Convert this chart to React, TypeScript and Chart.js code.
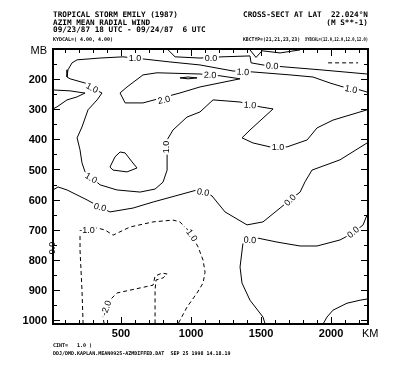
import React, { useEffect, useRef } from "react";
import { Chart, registerables } from "chart.js";
Chart.register(...registerables);

type P = [number, number]; // [distance km, pressure mb]

// ---- axes ----
const xRange = [14, 2264];
const yRange = [100, 1013];
const xMajorKm = [500, 1000, 1500, 2000];
const xMinorKm = [100, 200, 300, 400, 500, 600, 700, 800, 900, 1000, 1100, 1200, 1300, 1400, 1500, 1600, 1700, 1800, 1900, 2000, 2100, 2200];
const yMajorMb = [200, 300, 400, 500, 600, 700, 800, 900, 1000];
const yMinorMb = [150, 250, 350, 450, 550, 650, 750, 850, 950];

// ---- contour lines (level, points) ----
const c1a: P[] = [[2257,243],[2207,236],[2086,226],[1993,213],[1871,193],[1707,186],[1436,176],[1300,173],[1064,153],[850,143],[657,133],[514,126],[350,130],[186,136],[150,146],[121,169],[114,193],[136,199],[243,213],[350,243],[364,246],[329,269],[264,302],[221,359],[186,395],[207,435],[221,478],[243,508],[350,551],[471,568],[636,575],[743,565],[800,542],[829,502],[829,435],[829,402],[871,369],[971,326],[1064,309],[1157,269],[1350,276],[1493,292],[1586,299],[1421,369],[1364,395],[1443,412],[1564,425],[1686,425],[1829,402],[1900,362],[2014,336],[2257,302]];
const c1b: P[] = [[14,236],[136,239],[236,246],[243,246],[186,259],[114,269],[43,292],[14,299]];
const c1c: P[] = [[1943,1013],[1971,990],[2014,967],[2114,944],[2207,934],[2257,930]];
const c2a: P[] = [[1350,199],[1207,189],[1064,183],[757,179],[657,186],[543,226],[493,246],[529,279],[657,279],[921,246],[1064,226],[1350,199]];
const c2b: P[] = [[421,492],[457,458],[493,442],[529,445],[579,475],[614,495],[543,508],[443,502],[421,492]];
const c3a: P[] = [[921,196],[979,193],[1043,196],[979,199],[921,196]];
const c0a: P[] = [[836,103],[886,126],[1064,130],[1221,126],[1421,123],[1429,146],[1514,153],[1657,159],[1921,169],[2257,183]];
const c0b: P[] = [[1421,103],[1464,128],[1507,106],[1636,113],[1779,103]];
const c0c: P[] = [[14,568],[50,558],[114,568],[257,601],[350,625],[421,641],[586,628],[729,608],[886,588],[1043,568],[1100,575],[1150,588],[1243,641],[1400,684],[1514,674],[1636,628],[1707,601],[1779,575],[1814,541],[1864,502],[2064,468],[2257,412]];
const c0d: P[] = [[1529,1013],[1514,990],[1421,934],[1364,877],[1350,824],[1371,744],[1479,728],[1614,741],[1779,754],[1900,754],[2064,734],[2157,711],[2229,684],[2257,651]];
const cm1a: P[] = [[229,1013],[221,900],[207,767],[207,711],[243,701],[329,694],[386,701],[443,718],[564,691],[729,674],[871,668],[921,674],[1000,714],[1050,757],[1086,801],[1100,841],[1086,877],[1043,910],[971,957],[907,1013]];
const cm1b: P[] = [[1979,146],[2193,146]];
const cm2a: P[] = [[379,1013],[371,987],[407,940],[471,910],[600,897],[729,884],[743,854],[793,844],[829,847],[800,860],[750,867],[743,900],[743,1013]];

const contours: { level: number; pts: P[] }[] = [
  { level: 1, pts: c1a }, { level: 1, pts: c1b }, { level: 1, pts: c1c },
  { level: 2, pts: c2a }, { level: 2, pts: c2b }, { level: 3, pts: c3a },
  { level: 0, pts: c0a }, { level: 0, pts: c0b }, { level: 0, pts: c0c }, { level: 0, pts: c0d },
  { level: -1, pts: cm1a }, { level: -1, pts: cm1b }, { level: -2, pts: cm2a },
];

// contour labels: text, km, mb, angle(deg)
const labelText = ["1.0","1.0","1.0","1.0","1.0","1.0","1.0","1.0","2.0","2.0","0.0","0.0","0.0","0.0","0.0","0.0","0.0","-1.0","-1.0","-2.0","0.0"];
const labelKm = [600,1371,2143,293,286,821,1421,1621,807,1136,1143,1579,350,1086,1707,1421,2157,257,1000,393,7];
const labelMb = [130,176,233,229,528,425,286,425,269,186,130,156,625,575,601,734,708,701,714,960,761];
const labelAngle = [0,3,12,28,30,-90,5,0,-12,2,0,3,15,10,-45,3,-40,0,55,-70,-90];

// ---- texts ----
const titleLeft = ["TROPICAL STORM EMILY (1987)", "AZIM MEAN RADIAL WIND", "09/23/87 18 UTC - 09/24/87  6 UTC"];
const titleRight = ["CROSS-SECT AT LAT  22.024\u00B0N", "(M S**-1)"];
const smallLeft = "KYDCAL=( 4.00, 4.00)";
const smallRight1 = "KBCTYP=(21,21,23,23)";
const smallRight2 = "XYBCAL=(12.0,12.0,12.0,12.0)";
const footer1 = "CINT=   1.0 )";
const footer2 = "DDJ/DMD.KAPLAN.MEAN0925-AZMDIFFED.DAT  SEP 25 1998 14.18.19";

export default function App() {
  const ref = useRef<HTMLCanvasElement>(null);
  useEffect(() => {
    document.body.style.margin = "0";
    const canvas = ref.current!;
    const datasets = contours.map((c) => ({
      data: c.pts.map(([x, y]) => ({ x, y })),
      showLine: true,
      borderColor: "#000",
      borderWidth: 1,
      borderDash: c.level < 0 ? [4, 3] : [],
      pointRadius: 0,
      fill: false,
      tension: 0,
    }));
    const deco = {
      id: "deco",
      afterDraw(chart: any) {
        const { ctx, chartArea, scales } = chart;
        const { left, top, right, bottom } = chartArea;
        const x = scales.x, y = scales.y;
        ctx.save();
        // contour labels
        ctx.font = "9px 'Liberation Sans'";
        ctx.textAlign = "center";
        ctx.textBaseline = "middle";
        labelText.forEach((t, i) => {
          const px = x.getPixelForValue(labelKm[i]);
          const py = y.getPixelForValue(labelMb[i]);
          ctx.save();
          ctx.translate(px, py);
          ctx.rotate((labelAngle[i] * Math.PI) / 180);
          const w = ctx.measureText(t).width;
          ctx.fillStyle = "#fff";
          ctx.fillRect(-w / 2 - 1.5, -4, w + 3, 8);
          ctx.fillStyle = "#000";
          ctx.fillText(t, 0, 0.5);
          ctx.restore();
        });
        // frame
        ctx.strokeStyle = "#000";
        ctx.lineWidth = 2;
        ctx.strokeRect(left, top, right - left, bottom - top);
        // ticks
        ctx.lineWidth = 1;
        ctx.beginPath();
        xMinorKm.forEach((km) => {
          const len = xMajorKm.includes(km) ? 7 : 4;
          const px = Math.round(x.getPixelForValue(km)) + 0.5;
          ctx.moveTo(px, bottom); ctx.lineTo(px, bottom - len);
          ctx.moveTo(px, top); ctx.lineTo(px, top + len);
        });
        [...yMajorMb, ...yMinorMb].forEach((mb) => {
          const len = yMajorMb.includes(mb) ? 7 : 4;
          const py = Math.round(y.getPixelForValue(mb)) + 0.5;
          ctx.moveTo(left, py); ctx.lineTo(left + len, py);
          ctx.moveTo(right, py); ctx.lineTo(right - len, py);
        });
        ctx.stroke();
        // axis labels
        ctx.fillStyle = "#000";
        ctx.font = "bold 11px 'Liberation Sans'";
        ctx.textAlign = "right";
        ctx.textBaseline = "middle";
        yMajorMb.forEach((mb) => ctx.fillText(String(mb), left - 6, y.getPixelForValue(mb) + 1));
        ctx.textAlign = "center";
        ctx.textBaseline = "alphabetic";
        xMajorKm.forEach((km) => ctx.fillText(String(km), x.getPixelForValue(km), bottom + 13));
        ctx.font = "11px 'Liberation Sans'";
        ctx.textAlign = "left";
        ctx.fillText("KM", right - 6, bottom + 13);
        ctx.textAlign = "right";
        ctx.fillText("MB", left - 6, top + 5);
        // titles
        ctx.font = "bold 7.7px 'DejaVu Sans Mono'";
        ctx.textAlign = "left";
        titleLeft.forEach((t, i) => ctx.fillText(t, 53, 17 + i * 7.5));
        ctx.textAlign = "right";
        titleRight.forEach((t, i) => ctx.fillText(t, 368, 17 + i * 7.5));
        ctx.font = "bold 5px 'DejaVu Sans Mono'";
        ctx.textAlign = "left";
        ctx.fillText(smallLeft, 53, 41, 60);
        ctx.fillText(smallRight1, 243, 41, 57);
        ctx.fillText(smallRight2, 305, 41, 63);
        ctx.fillText(footer1, 53, 347, 44);
        ctx.fillText(footer2, 53, 355, 197);
        ctx.restore();
      },
    };
    const chart = new Chart(canvas, {
      type: "scatter",
      data: { datasets },
      options: {
        responsive: false,
        animation: false,
        devicePixelRatio: 1,
        events: [],
        layout: { padding: { left: 53, top: 49, right: 39, bottom: 53 } },
        plugins: { legend: { display: false }, tooltip: { enabled: false }, title: { display: false } },
        scales: {
          x: { type: "linear", display: false, min: xRange[0], max: xRange[1] },
          y: { type: "linear", display: false, min: yRange[0], max: yRange[1], reverse: true },
        },
      },
      plugins: [deco],
    } as any);
    return () => chart.destroy();
  }, []);
  return (
    <div style={{ position: "fixed", left: 0, top: 0, width: 407, height: 377, background: "#fff" }}>
      <canvas ref={ref} width={407} height={377} style={{ display: "block", width: 407, height: 377 }} />
    </div>
  );
}
